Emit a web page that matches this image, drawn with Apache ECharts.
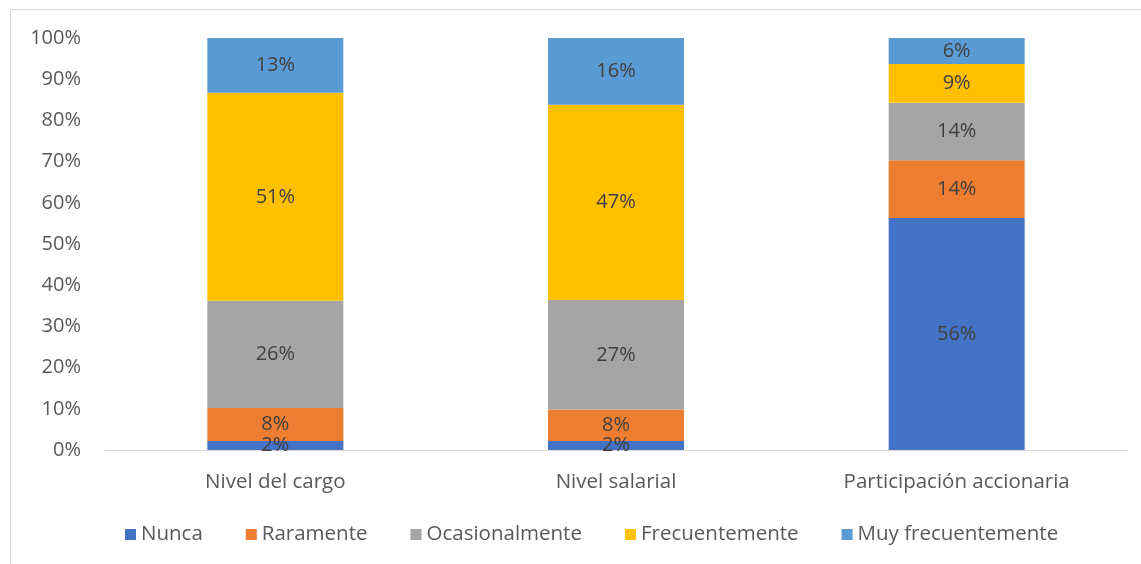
<!DOCTYPE html>
<html><head><meta charset="utf-8">
<script src="https://cdn.jsdelivr.net/npm/echarts@6/dist/echarts.min.js"></script>
<style>html,body{margin:0;padding:0;background:#fff}#c{width:1141px;height:564px}</style>
</head><body><div id="c"></div>
<script>
const categories = ['Nivel del cargo', 'Nivel salarial', 'Participación accionaria'];
const seriesNames = ['Nunca', 'Raramente', 'Ocasionalmente', 'Frecuentemente', 'Muy frecuentemente'];
const nunca = [2.2, 2.2, 56.3];
const raramente = [8.0, 7.6, 14.0];
const ocasionalmente = [26.0, 26.6, 14.0];
const frecuentemente = [50.5, 47.4, 9.4];
const muyFrecuentemente = [13.3, 16.2, 6.3];
const yTicks = [0, 10, 20, 30, 40, 50, 60, 70, 80, 90, 100];
const colors = ['#4472C4', '#ED7D31', '#A5A5A5', '#FFC000', '#5B9BD5'];
const values = [nunca, raramente, ocasionalmente, frecuentemente, muyFrecuentemente];
const font = '"Open Sans", Lato, sans-serif';
const chart = echarts.init(document.getElementById('c'));
chart.setOption({
  animation: false,
  graphic: [{type: 'rect', shape: {x: 10.5, y: 9.5, width: 1200, height: 600}, style: {fill: 'none', stroke: '#D9D9D9', lineWidth: 1}, silent: true}],
  grid: {left: 105, right: 14, top: 38, bottom: 114},
  legend: {
    bottom: 14, left: 120, itemWidth: 11, itemHeight: 11, itemGap: 43, icon: 'rect',
    textStyle: {fontFamily: font, fontSize: 20.5, color: '#595959'},
    data: seriesNames
  },
  xAxis: {
    type: 'category', data: categories,
    axisLine: {lineStyle: {color: '#D9D9D9', width: 1}},
    axisTick: {show: false},
    axisLabel: {fontFamily: font, fontSize: 20.5, color: '#595959', margin: 22}
  },
  yAxis: {
    type: 'value', min: 0, max: 100, interval: 10,
    axisLine: {show: false}, axisTick: {show: false}, splitLine: {show: false},
    axisLabel: {fontFamily: font, fontSize: 20, color: '#595959', margin: 24,
      formatter: v => yTicks.includes(v) ? v + '%' : ''}
  },
  series: seriesNames.map((n, i) => ({
    name: n, type: 'bar', stack: 'total', barWidth: 136,
    data: values[i],
    itemStyle: {color: colors[i]},
    label: {show: true, position: 'inside', fontFamily: font, fontSize: 20, color: '#404040',
      formatter: p => Math.round(p.value) + '%'}
  }))
});
</script></body></html>
